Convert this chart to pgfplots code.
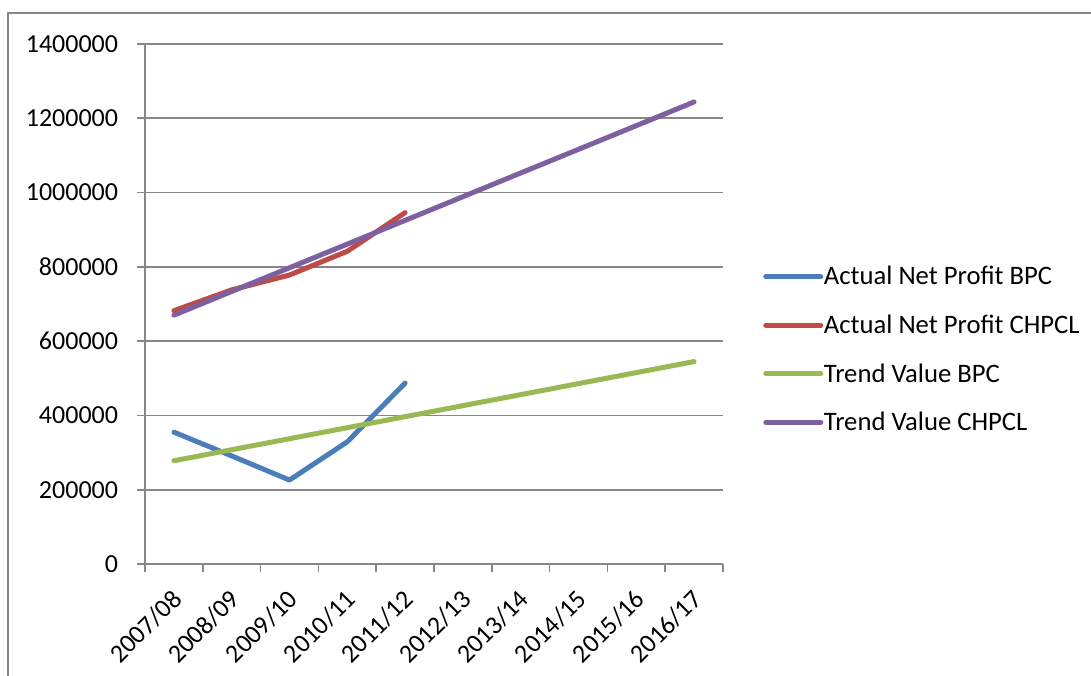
\documentclass[border=0pt]{standalone}
\usepackage{pgfplots}
\pgfplotsset{compat=1.18}
\usepackage{fontspec}
\setmainfont{Carlito}

\definecolor{cBlue}{HTML}{4A7EBB}
\definecolor{cRed}{HTML}{BE4B48}
\definecolor{cGreen}{HTML}{98B954}
\definecolor{cPurple}{HTML}{7D60A0}
\definecolor{cGrid}{HTML}{878787}

\begin{document}
\begin{tikzpicture}
\useasboundingbox (0pt,0pt) rectangle (818.25pt,506.25pt);
% outer chart frame
\draw[cGrid, line width=1.2pt] (6pt,496.5pt) rectangle (830pt,-20pt);
\begin{axis}[
  at={(108.75pt,83.25pt)}, anchor=south west,
  scale only axis, width=433.5pt, height=390pt,
  xmin=-0.5, xmax=9.5, ymin=0, ymax=1400000,
  ytick={0,200000,...,1400000},
  xtick={0,...,9},
  xticklabels={2007/08,2008/09,2009/10,2010/11,2011/12,2012/13,2013/14,2014/15,2015/16,2016/17},
  minor xtick={-0.5,0.5,...,9.5},
  axis x line*=bottom, axis y line*=left,
  axis line style={cGrid, line width=1.3pt, -},
  ymajorgrids, grid style={cGrid, line width=1.3pt},
  tick align=outside,
  major x tick style={draw=none},
  minor x tick style={cGrid, line width=1.3pt},
  major y tick style={cGrid, line width=1.3pt},
  major tick length=6pt, minor tick length=6pt,
  scaled y ticks=false,
  /pgf/number format/.cd, fixed, 1000 sep={}, assume math mode=true,
  /pgfplots/.cd,
  tick label style={font=\fontsize{19.5}{23}\selectfont, black},
  yticklabel style={anchor=east, inner sep=0pt, xshift=-14pt},
  xticklabel style={xshift=-2.5pt, yshift=-12pt, rotate=45, anchor=north east, inner sep=0pt},
  legend style={at={(1.0692,0.4125)}, anchor=west, draw=none, fill=none,
    inner sep=0pt, row sep=21pt, column sep=0.5pt,
    nodes={inner sep=0pt, anchor=west},
    font=\fontsize{20}{24}\selectfont},
  legend cell align=left,
  legend image code/.code={\draw[#1, line cap=round] (0pt,0pt) -- (41.25pt,0pt);},
  every axis plot/.append style={line width=3.75pt, line cap=round, line join=round},
]
\addplot[cBlue] coordinates {(0,355000) (1,291000) (2,226000) (3,329000) (4,487000)};
\addlegendentry{Actual Net Profit BPC}
\addplot[cRed] coordinates {(0,682000) (1,738000) (2,778000) (3,842000) (4,946000)};
\addlegendentry{Actual Net Profit CHPCL}
\addplot[cGreen] coordinates {(0,278000) (1,307700) (2,337300) (3,367000) (4,396700) (5,426300) (6,456000) (7,485700) (8,515300) (9,545000)};
\addlegendentry{Trend Value BPC}
\addplot[cPurple] coordinates {(0,670000) (1,733800) (2,797600) (3,861300) (4,925100) (5,988900) (6,1052700) (7,1116400) (8,1180200) (9,1244000)};
\addlegendentry{Trend Value CHPCL}
\end{axis}
\end{tikzpicture}
\end{document}
